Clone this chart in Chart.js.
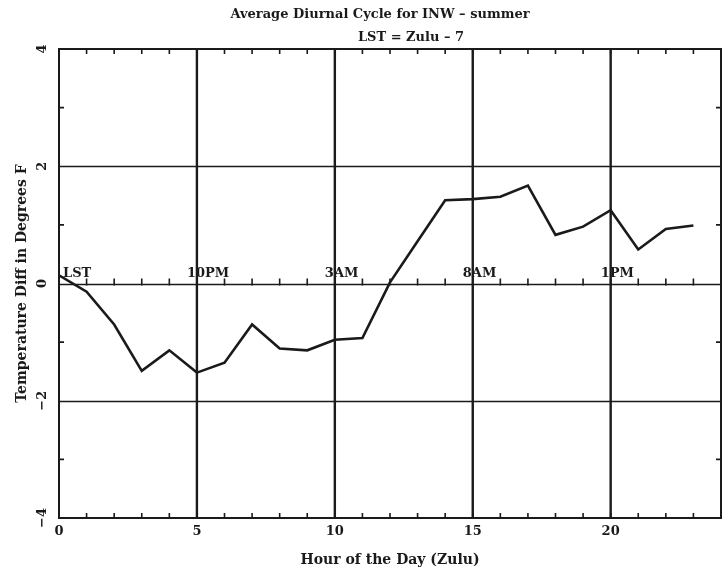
<!DOCTYPE html>
<html>
<head>
<meta charset="utf-8">
<script src="https://cdn.jsdelivr.net/npm/chart.js@4.4.0/dist/chart.umd.min.js"></script>
<style>
  html, body { margin: 0; padding: 0; background: #ffffff; }
  #wrap { width: 723px; height: 571px; position: relative; }
</style>
</head>
<body>
<div id="wrap"><canvas id="c" width="723" height="571"></canvas></div>
<script>
const hours = [0, 1, 2, 3, 4, 5, 6, 7, 8, 9, 10, 11, 12, 13, 14, 15, 16, 17, 18, 19, 20, 21, 22, 23];
const tempDiff = [0.14, -0.14, -0.70, -1.49, -1.14, -1.52, -1.35, -0.70, -1.11, -1.14, -0.96, -0.93,
                  0.02, 0.72, 1.42, 1.44, 1.48, 1.67, 0.83, 0.97, 1.25, 0.58, 0.93, 0.99];
const xTickValues = [0, 5, 10, 15, 20];
const yTickValues = [-4, -2, 0, 2, 4];
const lstHours = [0, 5, 10, 15, 20];
const lstLabels = ['LST', '10PM', '3AM', '8AM', '1PM'];
const titleText = 'Average Diurnal Cycle for INW \u2013 summer';
const subtitleText = 'LST = Zulu \u2013 7';
const xTitle = 'Hour of the Day (Zulu)';
const yTitle = 'Temperature Diff in Degrees F';

const INK = '#1a1a1a';
const FONT = "bold 13px 'DejaVu Serif', 'Liberation Serif', serif";
const AXIS_FONT = "bold 14px 'DejaVu Serif', 'Liberation Serif', serif";

const decor = {
  id: 'decor',
  beforeDraw(chart) {
    const ctx = chart.ctx;
    ctx.save();
    ctx.fillStyle = '#ffffff';
    ctx.fillRect(0, 0, chart.width, chart.height);
    ctx.restore();
  },
  beforeDatasetsDraw(chart) {
    const ctx = chart.ctx;
    const xs = chart.scales.x, ys = chart.scales.y;
    const a = chart.chartArea;
    ctx.save();
    ctx.strokeStyle = INK;
    // horizontal grid lines
    ctx.lineWidth = 1.6;
    [-2, 0, 2].forEach(v => {
      const y = Math.round(ys.getPixelForValue(v)) + 0.5;
      ctx.beginPath(); ctx.moveTo(a.left, y); ctx.lineTo(a.right, y); ctx.stroke();
    });
    // vertical grid lines
    ctx.lineWidth = 2.4;
    [5, 10, 15, 20].forEach(v => {
      const x = xs.getPixelForValue(v);
      ctx.beginPath(); ctx.moveTo(x, a.top); ctx.lineTo(x, a.bottom); ctx.stroke();
    });
    // minor ticks
    ctx.lineWidth = 1.6;
    const y0 = ys.getPixelForValue(0);
    for (let h = 1; h < 24; h++) {
      const x = xs.getPixelForValue(h);
      ctx.beginPath();
      ctx.moveTo(x, a.top); ctx.lineTo(x, a.top + 5);
      ctx.moveTo(x, a.bottom); ctx.lineTo(x, a.bottom - 5);
      ctx.moveTo(x, y0 - 5); ctx.lineTo(x, y0 + 2);
      ctx.stroke();
    }
    [-3, -1, 1, 3].forEach(v => {
      const y = ys.getPixelForValue(v);
      ctx.beginPath();
      ctx.moveTo(a.left, y); ctx.lineTo(a.left + 5, y);
      ctx.moveTo(a.right, y); ctx.lineTo(a.right - 5, y);
      ctx.stroke();
    });
    // frame
    ctx.lineWidth = 2;
    ctx.strokeRect(a.left, a.top, a.right - a.left, a.bottom - a.top);
    ctx.restore();
  },
  afterDraw(chart) {
    const ctx = chart.ctx;
    const xs = chart.scales.x, ys = chart.scales.y;
    const a = chart.chartArea;
    ctx.save();
    ctx.fillStyle = INK;
    ctx.font = FONT;
    // titles
    ctx.textAlign = 'center';
    ctx.textBaseline = 'middle';
    ctx.fillText(titleText, 380, 15);
    ctx.fillText(subtitleText, 411, 38);
    // x tick labels
    xTickValues.forEach(v => {
      ctx.fillText(String(v), xs.getPixelForValue(v), 532);
    });
    ctx.font = AXIS_FONT;
    ctx.fillText(xTitle, (a.left + a.right) / 2, 560);
    ctx.font = FONT;
    // LST labels
    ctx.textAlign = 'left';
    ctx.textBaseline = 'alphabetic';
    const y0 = ys.getPixelForValue(0);
    lstHours.forEach((h, i) => {
      const x = xs.getPixelForValue(h);
      const lx = h === 0 ? x + 4 : x - 10;
      ctx.fillText(lstLabels[i], lx, y0 - 7);
    });
    // y tick labels (rotated)
    ctx.textAlign = 'center';
    ctx.textBaseline = 'middle';
    yTickValues.forEach(v => {
      const y = ys.getPixelForValue(v);
      ctx.save();
      ctx.translate(43, y);
      ctx.rotate(-Math.PI / 2);
      ctx.fillText(v < 0 ? '\u2212' + Math.abs(v) : String(v), 0, 0);
      ctx.restore();
    });
    // y title
    ctx.font = AXIS_FONT;
    ctx.save();
    ctx.translate(22, (a.top + a.bottom) / 2);
    ctx.rotate(-Math.PI / 2);
    ctx.fillText(yTitle, 0, 0);
    ctx.restore();
    ctx.restore();
  }
};

new Chart(document.getElementById('c'), {
  type: 'line',
  data: {
    datasets: [{
      data: hours.map((h, i) => ({ x: h, y: tempDiff[i] })),
      borderColor: INK,
      borderWidth: 2.6,
      pointRadius: 0,
      tension: 0,
      fill: false
    }]
  },
  options: {
    responsive: false,
    animation: false,
    devicePixelRatio: 1,
    layout: { padding: { left: 59, right: 2, top: 49, bottom: 53 } },
    plugins: { legend: { display: false }, tooltip: { enabled: false }, title: { display: false } },
    scales: {
      x: {
        type: 'linear', min: 0, max: 24,
        ticks: { display: false },
        grid: { display: false, drawTicks: false },
        border: { display: false },
        afterFit(s) { s.height = 0; }
      },
      y: {
        type: 'linear', min: -4, max: 4,
        ticks: { display: false },
        grid: { display: false, drawTicks: false },
        border: { display: false },
        afterFit(s) { s.width = 0; }
      }
    }
  },
  plugins: [decor]
});
</script>
</body>
</html>
